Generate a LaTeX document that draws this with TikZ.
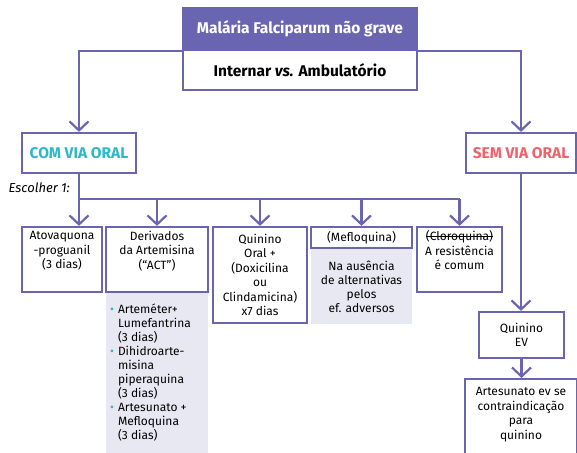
\documentclass[tikz,border=0pt]{standalone}
\usepackage{fontspec}
\setmainfont{Fira Sans}[BoldItalicFont={Fira Sans Bold Italic}]
\usepackage{xcolor}
\usetikzlibrary{arrows.meta}
\definecolor{roxo}{HTML}{6A65B0}
\definecolor{lilas}{HTML}{E8E8F3}
\definecolor{ciano}{HTML}{2DB8C8}
\definecolor{vermelho}{HTML}{EC636B}
\tikzset{
 caixa/.style={draw=roxo, line width=2.2pt, fill=white, align=center, inner sep=2pt, font=\fontsize{12}{14.5}\selectfont},
 titulo/.style={caixa, font=\bfseries\fontsize{15.5}{17}\selectfont},
 cinza/.style={fill=lilas, inner sep=3pt, font=\fontsize{12}{14}\selectfont},
 seta/.style={roxo, line width=2.2pt, -{Straight Barb[length=9pt,width=19pt]}},
 linha/.style={roxo, line width=2.2pt}
}
\newcommand{\marca}{\makebox[8pt][l]{\textcolor{ciano}{\textbullet}}}
\newcommand{\recuo}{\hspace*{8pt}}
\newsavebox{\riscobox}
\newcommand{\riscado}[1]{\sbox{\riscobox}{#1}\rlap{\rule[0.32em]{\wd\riscobox}{0.6pt}}\usebox{\riscobox}}

\begin{document}
\begin{tikzpicture}[x=1pt,y=-1pt]
\clip (0,0) rectangle (577,452);
\node[titulo, fill=roxo, text=white, minimum width=234, minimum height=42] (falcip) at (300,29) {Malária Falciparum não grave};
\node[titulo, minimum width=234, minimum height=40] (internar) at (300,70) {Internar \textit{vs.} Ambulatório};
\node[titulo, text=ciano, minimum width=114, minimum height=40] (comoral) at (79,153) {COM VIA ORAL};
\node[titulo, text=vermelho, minimum width=110, minimum height=40] (semoral) at (521,153) {SEM VIA ORAL};
\node[anchor=east, font=\itshape\fontsize{13}{15}\selectfont, inner sep=0] (escolha) at (70,188) {Escolher 1:};
\coordinate (split) at (79,199);

\node[caixa, minimum width=80, minimum height=65] (atova) at (62,259.5) {Atovaquona\\-proguanil\\(3 dias)\\[4pt]};
\node[caixa, minimum width=102, minimum height=65] (deriv) at (157,259.5) {Derivados\\da Artemisina\\(``ACT'')\\[4pt]};
\node[caixa, minimum width=94, minimum height=96] (quinoral) at (260,275) {Quinino\\Oral +\\(Doxicilina\\ou\\Clindamicina)\\x7 dias};
\node[caixa, minimum width=101, minimum height=21, inner sep=1pt] (meflo) at (361.5,237.5) {(Mefloquina)};
\node[caixa, minimum width=85, minimum height=65] (cloro) at (459.5,259.5) {\riscado{(Cloroquina)}\\A resistência\\é comum\\[4pt]};

\node[cinza, anchor=north, minimum width=102, minimum height=172] (derivlista) at (deriv.south) {%
\parbox[c][158pt][t]{94pt}{\raggedright\vspace*{4pt}
\marca Arteméter+\\\recuo Lumefantrina\\\recuo (3 dias)\\
\marca Dihidroarte-\\\recuo misina\\\recuo piperaquina\\\recuo (3 dias)\\
\marca Artesunato +\\\recuo Mefloquina\\\recuo (3 dias)}};
\node[cinza, anchor=north, minimum width=101, minimum height=75, align=center] (meflolista) at (meflo.south) {Na ausência\\de alternativas\\pelos\\ef. adversos};

\node[caixa, minimum width=85, minimum height=46] (quinev) at (521.5,335) {Quinino\\EV};
\node[caixa, anchor=north, minimum width=112, minimum height=95, text depth=0] (artes) at (521,378) {Artesunato ev se\\contraindicação\\para\\quinino\\[12pt]};

\draw[seta] (falcip.south west) -| (comoral.north);
\draw[seta] (falcip.south east) -| (semoral.north);
\draw[seta] (comoral.south) -- (comoral.south |- atova.north);
\draw[linha] (split) -- (split -| cloro.north);
\foreach \n in {deriv,quinoral,meflo,cloro} {
 \draw[seta] (split -| \n.north) -- (\n.north);
}
\draw[seta] (semoral.south) -- (semoral.south |- quinev.north);
\draw[seta] (quinev.south) -- (artes.north -| quinev.south);
\end{tikzpicture}
\end{document}
